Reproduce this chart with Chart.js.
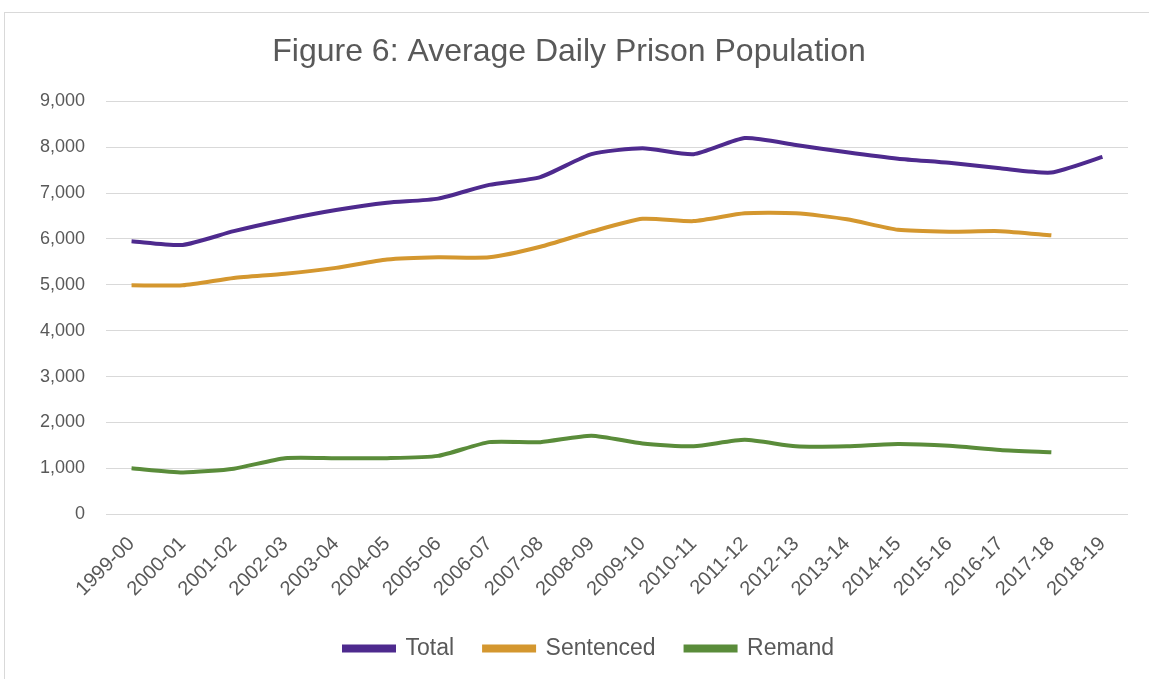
<!DOCTYPE html>
<html>
<head>
<meta charset="utf-8">
<script src="https://cdn.jsdelivr.net/npm/chart.js@4"></script>
<style>
  html, body { margin: 0; padding: 0; background: #fff; }
  #wrap { position: relative; width: 1149px; height: 679px; }
  #frame { position: absolute; left: 4px; top: 12px; right: -2px; bottom: -2px; border: 1px solid #d9d9d9; }
  #chart { position: absolute; left: 0; top: 0; }
</style>
</head>
<body>
<div id="wrap">
  <div id="frame"></div>
  <canvas id="chart" width="1149" height="679"></canvas>
</div>
<script>
const years = ["1999-00", "2000-01", "2001-02", "2002-03", "2003-04", "2004-05", "2005-06", "2006-07", "2007-08", "2008-09",
               "2009-10", "2010-11", "2011-12", "2012-13", "2013-14", "2014-15", "2015-16", "2016-17", "2017-18", "2018-19"];
const total     = [5950, 5870, 6170, 6420, 6630, 6790, 6880, 7180, 7350, 7850, 7980, 7850, 8200, 8050, 7890, 7750, 7660, 7540, 7450, 7790];
const sentenced = [4990, 4990, 5150, 5240, 5370, 5550, 5600, 5600, 5830, 6160, 6440, 6390, 6560, 6560, 6430, 6200, 6160, 6170, 6080, null];
const remand    = [1000, 910, 990, 1220, 1220, 1220, 1270, 1570, 1570, 1710, 1540, 1480, 1620, 1480, 1480, 1530, 1490, 1400, 1350, null];
const yTicks    = [0, 1000, 2000, 3000, 4000, 5000, 6000, 7000, 8000, 9000];

const textColor = "#595959";
const font = "'Liberation Sans', Arial, sans-serif";

function series(label, data, color) {
  return {
    label: label,
    data: data,
    borderColor: color,
    backgroundColor: color,
    borderWidth: 4,
    pointRadius: 0,
    tension: 0.2,
    spanGaps: false
  };
}

// nudge the legend row a little to the right of the canvas centre
const legendShift = {
  id: "legendShift",
  afterLayout(chart) {
    chart.legend.left += 20;
    chart.legend.right += 20;
  }
};

new Chart(document.getElementById("chart"), {
  type: "line",
  data: {
    labels: years,
    datasets: [
      series("Total", total, "#4e2a8e"),
      series("Sentenced", sentenced, "#d4972f"),
      series("Remand", remand, "#5a8c3a")
    ]
  },
  plugins: [legendShift],
  options: {
    responsive: false,
    animation: false,
    layout: { padding: { top: 22, left: 10, right: 21, bottom: 9 } },
    plugins: {
      title: {
        display: true,
        text: "Figure 6: Average Daily Prison Population",
        color: textColor,
        font: { family: font, size: 32, weight: "normal" },
        padding: { top: 11, bottom: 30 }
      },
      legend: {
        position: "bottom",
        labels: {
          color: textColor,
          font: { family: font, size: 23 },
          boxWidth: 50,
          boxHeight: 4,
          padding: 30
        }
      },
      tooltip: { enabled: false }
    },
    scales: {
      x: {
        offset: true,
        grid: { display: false },
        border: { display: false },
        afterFit: function(axis) { axis.height -= 4; },
        ticks: {
          color: textColor,
          font: { family: font, size: 20 },
          minRotation: 45,
          maxRotation: 45,
          autoSkip: false,
          padding: 10
        }
      },
      y: {
        min: 0,
        max: 9000,
        afterBuildTicks: function(axis) {
          axis.ticks = yTicks.map(v => ({ value: v }));
        },
        afterFit: function(axis) { axis.width = 96; },
        grid: { color: "#d9d9d9", lineWidth: 1, drawTicks: false },
        border: { display: false },
        ticks: {
          color: textColor,
          font: { family: font, size: 18 },
          padding: 21,
          callback: v => v.toLocaleString("en-US")
        }
      }
    }
  }
});
</script>
</body>
</html>
